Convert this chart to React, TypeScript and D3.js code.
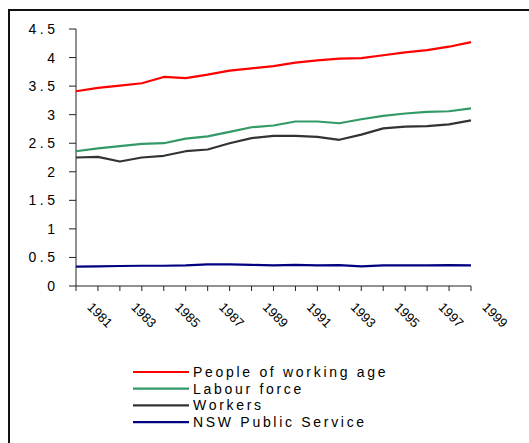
import React from "react";
import * as d3 from "d3";

const years = [1980, 1981, 1982, 1983, 1984, 1985, 1986, 1987, 1988, 1989, 1990, 1991, 1992, 1993, 1994, 1995, 1996, 1997, 1998];
const workingAge = [3.41, 3.47, 3.51, 3.55, 3.66, 3.64, 3.70, 3.77, 3.81, 3.85, 3.91, 3.95, 3.98, 3.99, 4.04, 4.09, 4.13, 4.19, 4.27];
const labourForce = [2.36, 2.41, 2.45, 2.49, 2.50, 2.58, 2.62, 2.70, 2.78, 2.81, 2.88, 2.88, 2.85, 2.92, 2.98, 3.02, 3.05, 3.06, 3.11];
const workers = [2.25, 2.26, 2.18, 2.25, 2.28, 2.36, 2.39, 2.50, 2.59, 2.63, 2.63, 2.61, 2.56, 2.65, 2.76, 2.79, 2.80, 2.83, 2.90];
const publicService = [0.34, 0.345, 0.35, 0.355, 0.355, 0.36, 0.38, 0.38, 0.37, 0.36, 0.37, 0.36, 0.365, 0.345, 0.36, 0.36, 0.36, 0.365, 0.36];
const yTicks = [0, 0.5, 1, 1.5, 2, 2.5, 3, 3.5, 4, 4.5];
const yTickLabels = ["0", "0.5", "1", "1.5", "2", "2.5", "3", "3.5", "4", "4.5"];
const xLabelYears = [1981, 1983, 1985, 1987, 1989, 1991, 1993, 1995, 1997, 1999];
const seriesNames = ["People of working age", "Labour force", "Workers", "NSW Public Service"];
const seriesColors = ["#ff0000", "#339966", "#333333", "#000080"];
const seriesData = [workingAge, labourForce, workers, publicService];

export default function App() {
  const x = d3.scaleLinear().domain([1980, 1998]).range([76, 471]);
  const y = d3.scaleLinear().domain([0, 4.5]).range([286, 29]);
  const line = d3
    .line<number>()
    .x((_, i) => x(years[i]))
    .y((d) => y(d));
  const font = "Arial, 'Liberation Sans', sans-serif";

  return (
    <svg
      width={529}
      height={443}
      style={{ position: "absolute", left: 0, top: 0 }}
      fontFamily={font}
    >
      <rect x={0} y={0} width={529} height={443} fill="#fff" />
      <rect x={9} y={10} width={540} height={450} fill="none" stroke="#111" strokeWidth={2} />
      {/* y axis */}
      <line x1={76} x2={76} y1={y(4.5)} y2={y(0)} stroke="#222" strokeWidth={1} />
      {yTicks.map((t, i) => (
        <g key={t}>
          <line x1={69} x2={76} y1={y(t)} y2={y(t)} stroke="#222" strokeWidth={1} />
          <text
            x={58.5}
            y={y(t)}
            textAnchor="end"
            dominantBaseline="central"
            fontSize={14}
            letterSpacing={3.5}
            fill="#000"
          >
            {yTickLabels[i]}
          </text>
        </g>
      ))}
      {/* x axis */}
      <line x1={76} x2={471} y1={286} y2={286} stroke="#222" strokeWidth={1} />
      {years.map((yr) => (
        <line key={yr} x1={x(yr)} x2={x(yr)} y1={286} y2={291} stroke="#222" strokeWidth={1} />
      ))}
      {xLabelYears.map((yr) => (
        <text
          key={yr}
          transform={`translate(${x(yr) + 2},315) rotate(45)`}
          textAnchor="middle"
          dominantBaseline="central"
          fontSize={13}
          fill="#000"
        >
          {yr}
        </text>
      ))}
      {/* series */}
      {seriesData.map((s, i) => (
        <path
          key={seriesNames[i]}
          d={line(s) || ""}
          fill="none"
          stroke={seriesColors[i]}
          strokeWidth={2.2}
          strokeLinejoin="round"
        />
      ))}
      {/* legend */}
      {seriesNames.map((n, i) => {
        const ly = 372 + i * 16.7;
        return (
          <g key={n}>
            <line x1={133} x2={189} y1={ly} y2={ly} stroke={seriesColors[i]} strokeWidth={2.2} />
            <text x={193} y={ly} dominantBaseline="central" fontSize={14} letterSpacing={2.7} fill="#000">
              {n}
            </text>
          </g>
        );
      })}
    </svg>
  );
}
